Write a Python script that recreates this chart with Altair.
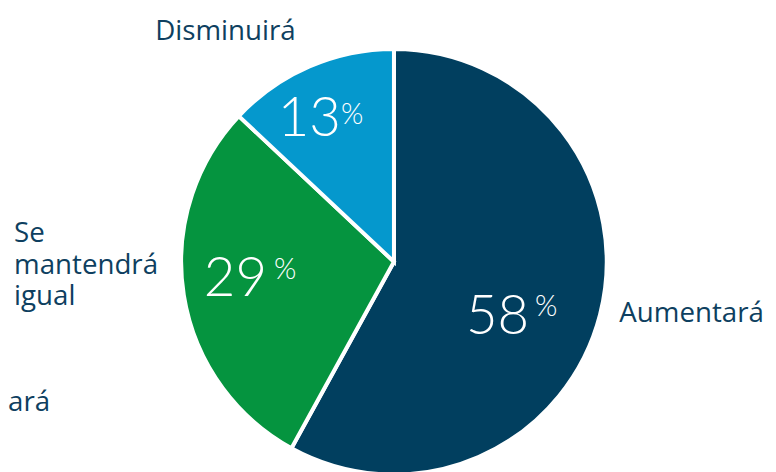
import altair as alt
import pandas as pd

categorias = ["Aumentará", "Se mantendrá igual", "Disminuirá"]
valores = [58, 29, 13]
orden = [0, 1, 2]
etiquetas = ["Aumentará", "Se\nmantendrá\nigual", "Disminuirá"]
numeros = ["58", "29", "13"]
colores = ["#013F5F", "#05943F", "#0598CD"]
texto_extra = ["ará"]

df = pd.DataFrame({
    "categoria": categorias,
    "valor": valores,
    "orden": orden,
    "etiqueta": etiquetas,
    "numero": numeros,
})

CX, CY = 390, 254
NUM_FONT = "Lato"
LBL_FONT = "Open Sans"
NAVY_TEXT = "#0E3F60"

theta_scale = alt.Scale(domain=[0, 100])

pie = alt.Chart(df).mark_arc(radius=215, stroke="white", strokeWidth=4).encode(
    theta=alt.Theta("valor:Q", stack=True, scale=theta_scale),
    color=alt.Color("categoria:N", scale=alt.Scale(domain=categorias, range=colores), legend=None),
    order=alt.Order("orden:Q"),
    x=alt.value(CX),
    y=alt.value(CY),
)

base_txt = alt.Chart(df).transform_window(
    cum="sum(valor)", sort=[alt.SortField("orden")]
).transform_calculate(
    mid="datum.cum - datum.valor / 2",
    pct="'%'",
    lineas="split(datum.etiqueta, '\\n')",
)


def capa(cat, campo, r, dx, dy, size, color, font, align="center", weight=300, line_height=None):
    props = dict(radius=r, dx=dx, dy=dy, fontSize=size, font=font, color=color,
                 align=align, baseline="alphabetic", fontWeight=weight)
    if line_height is not None:
        props["lineHeight"] = line_height
    return base_txt.transform_filter(alt.datum.categoria == cat).mark_text(**props).encode(
        theta=alt.Theta("mid:Q", stack=False, scale=theta_scale),
        text=alt.Text(campo),
        x=alt.value(CX),
        y=alt.value(CY),
    )


capas = [
    # percentages
    capa("Aumentará", "numero:N", 110, 30, 46, 55, "white", NUM_FONT, align="right"),
    capa("Aumentará", "pct:N", 110, 36, 27, 29, "white", NUM_FONT, align="left"),
    capa("Se mantendrá igual", "numero:N", 140, 10, 13, 55, "white", NUM_FONT, align="right"),
    capa("Se mantendrá igual", "pct:N", 140, 17, -4, 29, "white", NUM_FONT, align="left"),
    capa("Disminuirá", "numero:N", 150, 6, 11, 55, "white", NUM_FONT, align="right"),
    capa("Disminuirá", "pct:N", 150, 6, -2, 29, "white", NUM_FONT, align="left"),
    # category labels
    capa("Aumentará", "lineas:N", 230, 5, 4, 28, NAVY_TEXT, LBL_FONT, align="left", weight=400),
    capa("Disminuirá", "lineas:N", 240, -75, -4, 28, NAVY_TEXT, LBL_FONT, weight=400),
    capa("Se mantendrá igual", "lineas:N", 250, -137, -59, 28, NAVY_TEXT, LBL_FONT, align="left",
         weight=400, line_height=32),
]

extra = alt.Chart(pd.DataFrame({"t": texto_extra})).mark_text(
    font=LBL_FONT, fontSize=28, color=NAVY_TEXT, align="left", baseline="alphabetic"
).encode(text="t:N", x=alt.value(0), y=alt.value(405))

chart = alt.layer(pie, *capas, extra).properties(
    width=768, height=464, autosize=alt.AutoSizeParams(type="none"), padding=0
).configure_view(stroke=None)

chart.save("out.html", embed_options={"renderer": "svg", "actions": False})
